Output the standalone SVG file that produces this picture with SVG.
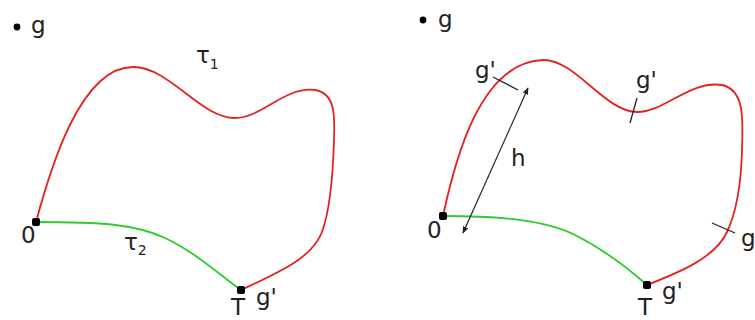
<svg xmlns="http://www.w3.org/2000/svg" width="755" height="320" viewBox="0 0 755 320">
<defs>
<marker id="ah" viewBox="0 0 10 10" refX="9" refY="5" markerWidth="7" markerHeight="7" orient="auto-start-reverse" markerUnits="userSpaceOnUse">
<path d="M0,1 L10,5 L0,9 z" fill="#222"/>
</marker>
</defs>
<style>
text{font-family:"DejaVu Sans","Liberation Sans",sans-serif;font-size:23px;fill:#222}
.sub{font-size:14px}
.red{fill:none;stroke:#e52222;stroke-width:1.8}
.green{fill:none;stroke:#2ccc2c;stroke-width:1.8}
.tick{stroke:#222;stroke-width:1.3}
.dot{fill:#000}
</style>
<rect width="755" height="320" fill="#fff"/>
<g id="connectors">
<path class="red" d="M36,222 C50,170 80,67 133,67 C170,67 200,118 235,118 C262,118 285,86 315,90 C335,93 335,115 334,140 C333,175 330,210 322,232 C312,258 280,272 241,290"/>
<path class="green" d="M36,222 C100,222 135,224 165,238 C195,252 220,275 241,290"/>
<path class="red" d="M443,216 C455,160 480,62 543,60 C575,59 605,112 637,112 C665,112 690,80 722,85 C745,90 743,120 742,150 C741,190 735,215 727,232 C715,258 680,272 647,285"/>
<path class="green" d="M443,216 C500,216 545,220 575,235 C605,250 630,270 647,285"/>
<line class="tick" x1="493" y1="77" x2="518" y2="90"/>
<line class="tick" x1="637" y1="98" x2="630" y2="123"/>
<line class="tick" x1="712" y1="223" x2="735" y2="233"/>
<line x1="528" y1="88" x2="463" y2="233" stroke="#222" stroke-width="1.2" marker-start="url(#ah)" marker-end="url(#ah)"/>
</g>
<g id="left-g"><circle class="dot" cx="17" cy="27" r="3.4"/><text x="31" y="33">g</text></g>
<g id="left-tau1"><text x="196" y="63">τ<tspan class="sub" dy="6">1</tspan></text></g>
<g id="left-O"><rect class="dot" x="32" y="218" width="8" height="8" rx="2"/><text x="21" y="243">0</text></g>
<g id="left-tau2"><text x="124" y="250">τ<tspan class="sub" dy="5">2</tspan></text></g>
<g id="left-T"><rect class="dot" x="237" y="286" width="8" height="8" rx="2"/><text x="231" y="315">T</text><text x="256" y="305">g'</text></g>
<g id="right-g"><circle class="dot" cx="423" cy="20" r="3.4"/><text x="438" y="27">g</text></g>
<g id="right-O"><rect class="dot" x="439" y="212" width="8" height="8" rx="2"/><text x="427" y="238">0</text></g>
<g id="right-T"><rect class="dot" x="643" y="281" width="8" height="8" rx="2"/><text x="638" y="315">T</text><text x="662" y="299">g'</text></g>
<g id="right-labels">
<text x="475" y="78">g'</text>
<text x="636" y="88">g'</text>
<text x="741" y="246">g</text>
<text x="511" y="166">h</text>
</g>
</svg>
